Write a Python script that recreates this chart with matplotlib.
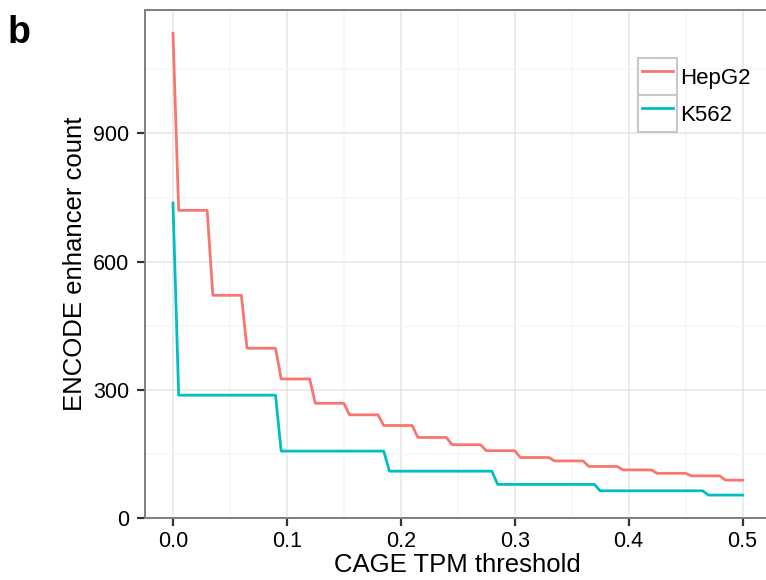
import matplotlib
matplotlib.use("Agg")
import matplotlib.pyplot as plt
from matplotlib.patches import Rectangle
from matplotlib.legend_handler import HandlerLine2D
from matplotlib.ticker import MultipleLocator

plt.rcParams['font.family'] = ['Liberation Sans', 'DejaVu Sans']

# Data (corner points of the step curves)
hepg2_tpm = [0, 0.005, 0.03, 0.035, 0.06, 0.065, 0.09, 0.095, 0.12, 0.125,
             0.15, 0.155, 0.18, 0.185, 0.21, 0.215, 0.24, 0.245, 0.27, 0.275,
             0.30, 0.305, 0.33, 0.335, 0.36, 0.365, 0.39, 0.395, 0.42, 0.425,
             0.45, 0.455, 0.48, 0.485, 0.5]
hepg2_count = [1135, 720, 720, 521, 521, 397, 397, 325, 325, 268,
               268, 241, 241, 216, 216, 188, 188, 171, 171, 157,
               157, 141, 141, 133, 133, 120, 120, 112, 112, 104,
               104, 98, 98, 88, 88]

k562_tpm = [0, 0.005, 0.09, 0.095, 0.185, 0.19, 0.28, 0.285, 0.37, 0.375,
            0.465, 0.47, 0.5]
k562_count = [737, 287, 287, 156, 156, 109, 109, 78, 78, 63,
              63, 53, 53]

x_ticks = [0.0, 0.1, 0.2, 0.3, 0.4, 0.5]
x_tick_labels = ["0.0", "0.1", "0.2", "0.3", "0.4", "0.5"]
y_ticks = [0, 300, 600, 900]

W, H = 766, 580
fig = plt.figure(figsize=(W / 100, H / 100), dpi=100)
ax = fig.add_axes([144.5 / W, 62.3 / H, 626.5 / W, 508 / H])

ax.plot(hepg2_tpm, hepg2_count, color="#F8766D", lw=2.0, label="HepG2")
ax.plot(k562_tpm, k562_count, color="#00BFC4", lw=2.0, label="K562")

ax.set_xlim(-0.025, 0.525)
ax.set_ylim(0, 1190)
ax.set_xticks(x_ticks)
ax.set_xticklabels(x_tick_labels)
ax.set_yticks(y_ticks)
ax.xaxis.set_minor_locator(MultipleLocator(0.05))
ax.yaxis.set_minor_locator(MultipleLocator(150))

ax.grid(which="major", color="#e5e5e5", lw=1.1)
ax.grid(which="minor", color="#f6f6f6", lw=1.1)
ax.set_axisbelow(True)

for s in ax.spines.values():
    s.set_color("#7f7f7f")
    s.set_linewidth(1.4)

ax.tick_params(which="major", direction="out", length=6, width=1.6,
               color="#333333", labelsize=15.5, labelcolor="black", pad=3.5)
ax.tick_params(axis="y", pad=5)
ax.tick_params(which="minor", length=0)

ax.set_xlabel("CAGE TPM threshold", fontsize=18.5, labelpad=1)
ax.set_ylabel("ENCODE enhancer count", fontsize=18.5, labelpad=4)


class BoxedLine(HandlerLine2D):
    def create_artists(self, legend, orig_handle, xdescent, ydescent,
                       width, height, fontsize, trans):
        arts = super().create_artists(legend, orig_handle, xdescent, ydescent,
                                      width, height, fontsize, trans)
        box = Rectangle((-xdescent, -ydescent), width, height,
                        facecolor="white", edgecolor="#c8c8c8", lw=1.5,
                        transform=trans)
        return [box] + list(arts)


handler = BoxedLine(numpoints=2, marker_pad=0.2)
leg = ax.legend(loc="upper left", bbox_to_anchor=(638 / W, 1 - 58 / H),
                bbox_transform=fig.transFigure, frameon=False, fontsize=16,
                borderpad=0, borderaxespad=0, labelspacing=0,
                handlelength=1.76, handleheight=2.2, handletextpad=0.15,
                handler_map={ax.lines[0]: handler, ax.lines[1]: handler})

fig.text(8 / W, 1 - 43 / H, "b", fontsize=27, fontweight="bold",
         ha="left", va="baseline")

fig.savefig("out.png", dpi=100)
